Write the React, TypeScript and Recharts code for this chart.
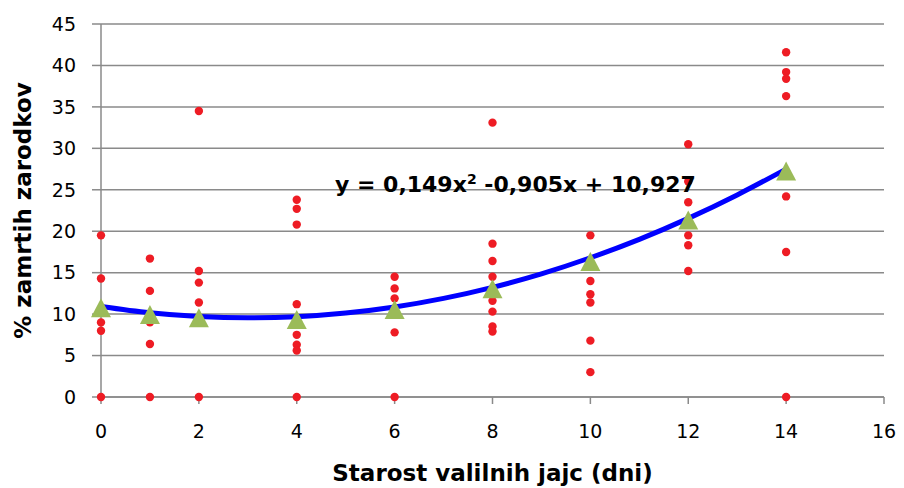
import { ComposedChart, Scatter, Line, XAxis, YAxis, CartesianGrid, Label } from "recharts"

// measured values per age (days)
const day0 = [19.5, 14.3, 9.0, 8.0, 0]
const day1 = [16.7, 12.8, 9.0, 6.4, 0]
const day2 = [34.5, 15.2, 13.8, 11.4, 0]
const day4 = [23.8, 22.7, 20.8, 11.2, 7.5, 6.3, 5.6, 0]
const day6 = [14.5, 13.1, 11.9, 7.8, 0]
const day8 = [33.1, 18.5, 16.4, 14.5, 11.6, 10.3, 8.5, 7.9]
const day10 = [19.5, 14.0, 12.4, 11.4, 6.8, 3.0]
const day12 = [30.5, 26.0, 23.5, 19.5, 18.3, 15.2]
const day14 = [41.6, 39.2, 38.4, 36.3, 24.2, 17.5, 0]

// green triangles (averages)
const avgDays = [0, 1, 2, 4, 6, 8, 10, 12, 14]
const avgValues = [10.7, 9.9, 9.5, 9.3, 10.5, 13.0, 16.3, 21.3, 27.2]

// trend line
const trendDays = [0, 1, 2, 3, 4, 5, 6, 7, 8, 9, 10, 11, 12, 13, 14]
const trendValues = [10.93, 10.17, 9.71, 9.55, 9.69, 10.13, 10.86, 11.9, 13.23, 14.86, 16.8, 19.02, 21.55, 24.38, 27.5]

const xTicks = [0, 2, 4, 6, 8, 10, 12, 14, 16]
const yTicks = [0, 5, 10, 15, 20, 25, 30, 35, 40, 45]

const groups: [number, number[]][] = [
  [0, day0], [1, day1], [2, day2], [4, day4], [6, day6],
  [8, day8], [10, day10], [12, day12], [14, day14],
]
const points = groups.flatMap(([d, vals]) => vals.map((v) => ({ x: d, y: v })))
const avgData = avgDays.map((d, i) => ({ x: d, y: avgValues[i] }))
const trendData = trendDays.map((d, i) => ({ x: d, y: trendValues[i] }))

const FONT = "'DejaVu Sans', sans-serif"
const AXIS = "#8a8a8a"

const Dot = (props: any) => <circle cx={props.cx} cy={props.cy} r={4.2} fill="#ee1c24" />

const Triangle = (props: any) => {
  const { cx, cy } = props
  return <polygon points={`${cx},${cy - 10} ${cx + 10},${cy + 9} ${cx - 10},${cy + 9}`} fill="#9bbb59" />
}

export default function App() {
  return (
    <div style={{ position: "relative", width: 896, height: 480 }}>
      <ComposedChart width={896} height={480} margin={{ top: 16, right: 20, bottom: 5, left: 0 }}>
        <CartesianGrid vertical={false} stroke={AXIS} strokeWidth={1.5} />
        <XAxis
          type="number"
          dataKey="x"
          domain={[0, 16]}
          ticks={xTicks}
          height={86}
          stroke={AXIS}
          strokeWidth={1.5}
          tickSize={7}
          tickMargin={21}
          tick={{ fill: "#000", fontSize: 19, fontFamily: FONT }}
        >
          <Label
            value="Starost valilnih jajc (dni)"
            position="insideBottom"
            offset={2}
            style={{ fontSize: 23, fontWeight: 700, fontFamily: FONT, fill: "#000" }}
          />
        </XAxis>
        <YAxis
          type="number"
          domain={[0, 45]}
          ticks={yTicks}
          width={93}
          stroke={AXIS}
          strokeWidth={1.5}
          tickSize={9}
          tickMargin={16}
          tick={{ fill: "#000", fontSize: 19, fontFamily: FONT }}
        >
          <Label
            value="% zamrtih zarodkov"
            angle={-90}
            position="insideLeft"
            offset={15}
            textAnchor="middle"
            style={{ fontSize: 23, fontWeight: 700, fontFamily: FONT, fill: "#000" }}
          />
        </YAxis>
        <Scatter data={points} dataKey="y" shape={Dot} isAnimationActive={false} />
        <Scatter data={avgData} dataKey="y" shape={Triangle} isAnimationActive={false} />
        <Line
          data={trendData}
          dataKey="y"
          type="monotone"
          stroke="#0000ff"
          strokeWidth={5}
          dot={false}
          activeDot={false}
          isAnimationActive={false}
        />
      </ComposedChart>
      <svg width={896} height={480} style={{ position: "absolute", left: 0, top: 0, pointerEvents: "none" }}>
        <text x={327} y={184} fontFamily={FONT} fontWeight={700} fontSize={22} fill="#000">
          y = 0,149x
          <tspan fontSize={14} dy={-8}>2</tspan>
          <tspan dy={8}> -0,905x + 10,927</tspan>
        </text>
      </svg>
    </div>
  )
}
